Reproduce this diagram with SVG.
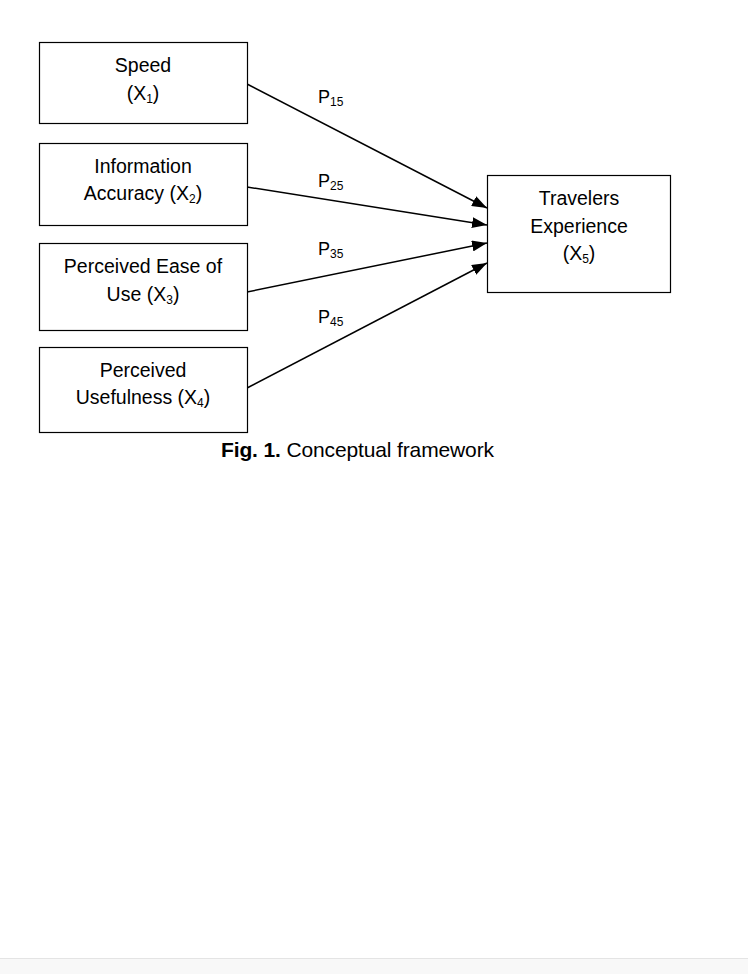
<svg xmlns="http://www.w3.org/2000/svg" width="748" height="974" viewBox="0 0 748 974">
<style>
.box{fill:#fff;stroke:#000;stroke-width:1.2}
.t{font-family:"Liberation Sans",Arial,sans-serif;font-size:19.5px;fill:#000;text-anchor:middle}
.p{font-family:"Liberation Sans",Arial,sans-serif;font-size:18px;fill:#000}
.cap{font-family:"Liberation Sans",Arial,sans-serif;font-size:21px;fill:#000}
.s{font-size:12px}
.c{stroke:#000;stroke-width:1.5;fill:none;marker-end:url(#ah)}
</style>
<defs>
<marker id="ah" markerWidth="15" markerHeight="11" refX="15" refY="5.5" orient="auto" markerUnits="userSpaceOnUse" viewBox="0 0 15 11">
<path d="M0,0 L15,5.5 L0,11 z" fill="#000"/>
</marker>
</defs>
<rect x="0" y="0" width="748" height="974" fill="#fff"/>
<rect x="0" y="958" width="748" height="16" fill="#f8f8f8"/>
<line x1="0" y1="958.5" x2="748" y2="958.5" stroke="#e4e4e4" stroke-width="1"/>
<g id="connectors">
<line class="c" x1="247" y1="84" x2="487" y2="208"/>
<line class="c" x1="247" y1="187" x2="487" y2="225"/>
<line class="c" x1="247" y1="292" x2="487" y2="243"/>
<line class="c" x1="247" y1="388" x2="487" y2="263"/>
<text class="p" x="318" y="103">P<tspan class="s" dy="3">15</tspan></text>
<text class="p" x="318" y="187">P<tspan class="s" dy="3">25</tspan></text>
<text class="p" x="318" y="255">P<tspan class="s" dy="3">35</tspan></text>
<text class="p" x="318" y="323">P<tspan class="s" dy="3">45</tspan></text>
</g>
<g id="node1">
<rect class="box" x="39.5" y="42.5" width="208" height="81"/>
<text class="t" x="143" y="72">Speed</text>
<text class="t" x="143" y="100">(X<tspan class="s" dy="3">1</tspan><tspan dy="-3">)</tspan></text>
</g>
<g id="node2">
<rect class="box" x="39.5" y="143.5" width="208" height="82"/>
<text class="t" x="143" y="173">Information</text>
<text class="t" x="143" y="200">Accuracy (X<tspan class="s" dy="3">2</tspan><tspan dy="-3">)</tspan></text>
</g>
<g id="node3">
<rect class="box" x="39.5" y="243.5" width="208" height="87"/>
<text class="t" x="143" y="273">Perceived Ease of</text>
<text class="t" x="143" y="301">Use (X<tspan class="s" dy="3">3</tspan><tspan dy="-3">)</tspan></text>
</g>
<g id="node4">
<rect class="box" x="39.5" y="347.5" width="208" height="85"/>
<text class="t" x="143" y="377">Perceived</text>
<text class="t" x="143" y="404">Usefulness (X<tspan class="s" dy="3">4</tspan><tspan dy="-3">)</tspan></text>
</g>
<g id="node5">
<rect class="box" x="487.5" y="175.5" width="183" height="117"/>
<text class="t" x="579" y="205">Travelers</text>
<text class="t" x="579" y="233">Experience</text>
<text class="t" x="579" y="260">(X<tspan class="s" dy="3">5</tspan><tspan dy="-3">)</tspan></text>
</g>
<g id="caption">
<text class="cap" x="221" y="457" textLength="273" lengthAdjust="spacing"><tspan font-weight="bold">Fig. 1.</tspan> Conceptual framework</text>
</g>
</svg>
